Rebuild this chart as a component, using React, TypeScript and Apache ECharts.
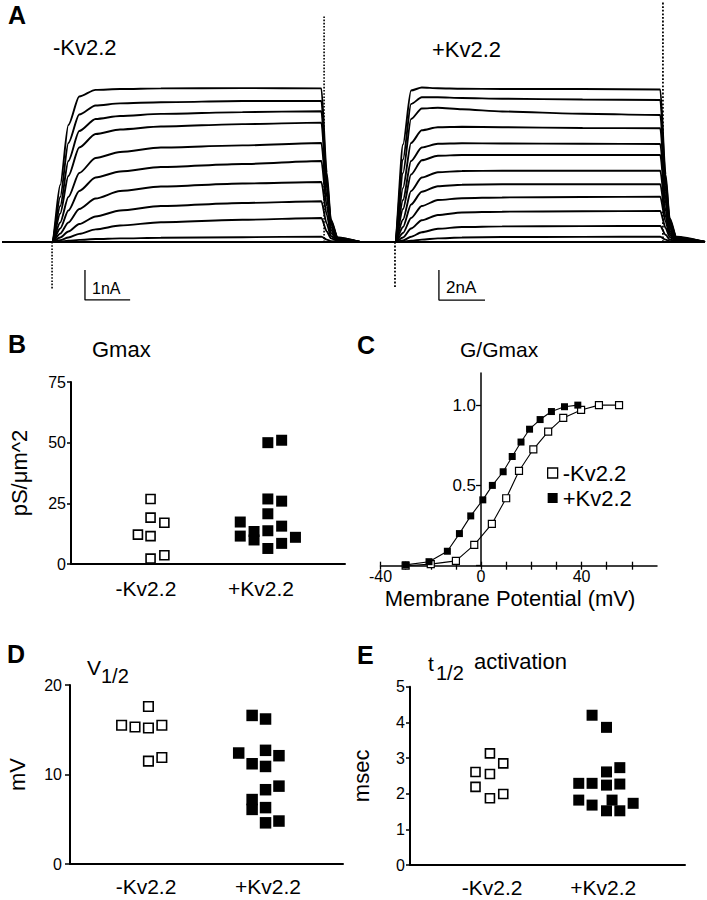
import React, { useEffect, useRef } from "react";
import * as echarts from "echarts";

const FONT = '"Liberation Sans", Arial, Helvetica, sans-serif';
const BLACK = "#000";

// ---------- Panel A : current traces (nA vs ms, pulse 0..100 ms) ----------
const leftTime = [-18.4, 0, 3, 6, 10, 16, 25, 40, 70, 99, 101, 102.5, 105, 113.2];
const leftTraces = [
  [0, 0, 1.9, 3.9, 4.85, 5.07, 5.1, 5.12, 5.13, 5.12, 2.3, 0.75, 0.15, 0],
  [0, 0, 1.5, 3.3, 4.25, 4.55, 4.62, 4.66, 4.7, 4.7, 2.1, 0.7, 0.14, 0],
  [0, 0, 1.2, 2.7, 3.7, 4.1, 4.2, 4.27, 4.33, 4.36, 1.95, 0.65, 0.13, 0],
  [0, 0, 0.95, 2.2, 3.15, 3.6, 3.75, 3.85, 3.93, 3.98, 1.8, 0.6, 0.12, 0],
  [0, 0, 0.65, 1.5, 2.3, 2.8, 3.0, 3.15, 3.22, 3.3, 1.5, 0.5, 0.1, 0],
  [0, 0, 0.45, 1.05, 1.7, 2.15, 2.35, 2.5, 2.6, 2.7, 1.2, 0.4, 0.08, 0],
  [0, 0, 0.28, 0.65, 1.1, 1.45, 1.7, 1.85, 1.95, 2.0, 0.9, 0.3, 0.06, 0],
  [0, 0, 0.15, 0.35, 0.6, 0.85, 1.05, 1.2, 1.3, 1.36, 0.6, 0.2, 0.04, 0],
  [0, 0, 0.06, 0.15, 0.27, 0.42, 0.55, 0.66, 0.74, 0.8, 0.35, 0.12, 0.03, 0],
  [0, 0, 0.02, 0.04, 0.07, 0.1, 0.12, 0.14, 0.16, 0.18, 0.08, 0.03, 0.01, 0],
  [0, 0, 0, 0, 0, 0, 0, 0, 0, 0, 0, 0, 0, 0],
];
const rightTime = [-13.8, 0, 3, 6, 10, 16, 25, 40, 70, 99, 101, 102.5, 105, 115.7];
const rightTraces = [
  [0, 0, 6.5, 10.1, 10.3, 10.25, 10.22, 10.2, 10.2, 10.17, 4.5, 1.6, 0.35, 0],
  [0, 0, 5.5, 9.2, 9.65, 9.65, 9.6, 9.55, 9.5, 9.47, 4.2, 1.5, 0.3, 0],
  [0, 0, 4.6, 8.2, 8.9, 8.95, 8.85, 8.7, 8.55, 8.47, 3.8, 1.35, 0.3, 0],
  [0, 0, 3.6, 6.6, 7.45, 7.65, 7.68, 7.65, 7.6, 7.58, 3.4, 1.2, 0.25, 0],
  [0, 0, 2.8, 5.4, 6.3, 6.55, 6.58, 6.57, 6.55, 6.53, 2.9, 1.05, 0.22, 0],
  [0, 0, 2.2, 4.5, 5.45, 5.75, 5.8, 5.8, 5.8, 5.8, 2.6, 0.93, 0.2, 0],
  [0, 0, 1.5, 3.4, 4.3, 4.65, 4.73, 4.75, 4.75, 4.75, 2.1, 0.76, 0.16, 0],
  [0, 0, 1.0, 2.5, 3.35, 3.72, 3.82, 3.85, 3.85, 3.85, 1.7, 0.62, 0.13, 0],
  [0, 0, 0.6, 1.6, 2.4, 2.8, 2.92, 2.97, 3.0, 3.02, 1.35, 0.48, 0.1, 0],
  [0, 0, 0.3, 0.9, 1.45, 1.8, 1.97, 2.02, 2.05, 2.07, 0.93, 0.33, 0.07, 0],
  [0, 0, 0.1, 0.35, 0.65, 0.88, 1.0, 1.04, 1.06, 1.07, 0.48, 0.17, 0.04, 0],
  [0, 0, 0.02, 0.08, 0.16, 0.24, 0.3, 0.33, 0.34, 0.35, 0.16, 0.06, 0.01, 0],
  [0, 0, 0, 0, 0, 0, 0, 0, 0, 0, 0, 0, 0, 0],
];
const leftOnsetSpike = [[0, 0], [0, -1.6]];
const leftOffsetSpike = [[100, 0], [100, 7.57]];
const rightOnsetSpike = [[0, 0], [0, -3.0]];
const rightOffsetSpike = [[100, 0], [100, 16.0]];
const leftScaleBar = [[12.1, -0.93], [12.1, -1.93], [28.7, -1.93]];
const rightScaleBar = [[16.4, -1.87], [16.4, -3.87], [33.6, -3.87]];

// ---------- Panels B, D, E : scatter by group ----------
const groups = ["-Kv2.2", "+Kv2.2"];

const gmaxMinus = [[1.04, 26.8], [1.04, 19.1], [1.16, 17.0], [0.93, 12.1], [1.04, 11.5], [1.04, 2.2], [1.16, 3.6]];
const gmaxPlus = [
  [2.06, 50.0], [2.18, 51.0], [2.06, 26.8], [2.18, 25.9], [2.06, 20.7], [1.82, 17.3], [1.82, 11.5],
  [1.94, 13.4], [1.94, 9.9], [2.06, 13.7], [2.18, 15.6], [2.18, 8.5], [2.06, 6.4], [2.3, 11.0],
];

const vhalfMinus = [[1.02, 17.6], [0.8, 15.5], [0.91, 15.3], [1.02, 15.2], [1.13, 15.5], [1.02, 11.5], [1.13, 11.9]];
const vhalfPlus = [
  [1.87, 16.6], [1.98, 16.2], [1.76, 12.4], [1.98, 12.7], [2.09, 12.1], [1.87, 11.2], [1.98, 10.9],
  [1.98, 8.3], [2.09, 8.7], [1.87, 7.2], [1.87, 6.1], [1.98, 6.3], [1.98, 4.6], [2.09, 4.8],
];

const thalfMinus = [[0.98, 3.13], [1.1, 2.85], [0.85, 2.61], [0.98, 2.55], [0.85, 2.19], [0.98, 1.87], [1.1, 1.99]];
const thalfPlus = [
  [1.9, 4.2], [2.03, 3.86], [2.03, 2.61], [2.15, 2.73], [1.78, 2.29], [1.9, 2.29], [2.03, 2.24],
  [2.15, 2.27], [1.78, 1.82], [1.9, 1.68], [2.08, 1.82], [2.03, 1.52], [2.15, 1.52], [2.27, 1.73],
];

// ---------- Panel C : G/Gmax vs membrane potential ----------
const cVoltMinus = [-30, -20, -10, -2.7, 4.3, 10, 15.1, 20.8, 26.7, 32.7, 39.8, 46.9, 54.9];
const cGMinus = [0, 0.01, 0.03, 0.13, 0.26, 0.42, 0.59, 0.725, 0.835, 0.92, 0.97, 1.0, 1.0];
const cVoltPlus = [-30, -20.7, -13.4, -8.6, -4.1, 0.7, 4.5, 8.8, 12.4, 15.9, 19.3, 23.5, 28, 33.2, 38.5];
const cGPlus = [0.005, 0.025, 0.09, 0.2, 0.31, 0.41, 0.5, 0.585, 0.68, 0.77, 0.85, 0.91, 0.96, 0.99, 1.0];
const cTicks = [-40, -30, -20, -10, 0, 10, 20, 30, 40, 50, 60];
const cTickLabels = [-40, 0, 40];
const cYTicks = [0, 0.5, 1.0];
const cYTickLabels = [0.5, 1.0];
const cXMin = -40;
const cXMax = 70;

function buildOption() {
  const openStyle = { color: "#fff", borderColor: BLACK, borderWidth: 1.6, opacity: 1 };
  const fillStyle = { color: BLACK, opacity: 1 };

  const cGrid = { left: 380.5, top: 373, width: 276.5, height: 192.7 };
  // y axis of panel C sits at 0 mV
  const cYOffset = -((0 - cXMin) / (cXMax - cXMin)) * cGrid.width;

  const traceSeries = (time: number[], traces: number[][], ax: number) =>
    traces.map((tr) => ({
      type: "line",
      xAxisIndex: ax,
      yAxisIndex: ax,
      data: time.map((t, i) => [t, tr[i]]),
      symbol: "none",
      smooth: 0.25,
      smoothMonotone: "x",
      clip: false,
      silent: true,
      lineStyle: { color: BLACK, width: 1.9 },
    }));

  const plainLine = (data: number[][], ax: number, dotted: boolean, width: number) => ({
    type: "line",
    xAxisIndex: ax,
    yAxisIndex: ax,
    data,
    symbol: "none",
    clip: false,
    silent: true,
    lineStyle: { color: BLACK, width, type: dotted ? "dotted" : "solid" },
  });

  const catLabelFormatter = (v: number) => groups[Math.round(v) - 1] ?? "";

  const catXAxis = (grid: number, min: number, max: number, margin: number) => ({
    gridIndex: grid,
    type: "value",
    position: "bottom",
    min,
    max,
    axisLine: { show: true, onZero: false, lineStyle: { color: BLACK, width: 2 } },
    axisTick: { show: false },
    splitLine: { show: false },
    axisLabel: {
      customValues: [1, 2],
      formatter: catLabelFormatter,
      color: BLACK,
      fontSize: 21,
      fontFamily: FONT,
      margin,
    },
  });

  const scatterYAxis = (grid: number, max: number, interval: number, name: string, nameGap: number, tickLen: number, margin: number) => ({
    gridIndex: grid,
    type: "value",
    min: 0,
    max,
    interval,
    name,
    nameLocation: "middle",
    nameRotate: 90,
    nameGap,
    nameTextStyle: { color: BLACK, fontSize: 22, fontFamily: FONT },
    axisLine: { show: true, onZero: false, lineStyle: { color: BLACK, width: 2 } },
    axisTick: { show: true, length: tickLen, lineStyle: { color: BLACK, width: 1.5 } },
    splitLine: { show: false },
    axisLabel: { color: BLACK, fontSize: 16, fontFamily: FONT, margin },
  });

  const scatter = (name: string, data: number[][], xi: number, yi: number, open: boolean, size: number) => ({
    type: "scatter",
    name,
    xAxisIndex: xi,
    yAxisIndex: yi,
    data,
    symbol: "rect",
    symbolSize: size,
    silent: true,
    itemStyle: open ? openStyle : fillStyle,
  });

  const txt = (text: string, x: number, y: number, size: number, bold = false, align = "left") => ({
    type: "text",
    x,
    y,
    silent: true,
    style: {
      text,
      fill: BLACK,
      fontSize: size,
      fontWeight: bold ? "bold" : "normal",
      fontFamily: FONT,
      align,
      verticalAlign: "middle",
    },
  });

  return {
    animation: false,
    backgroundColor: "#fff",
    textStyle: { fontFamily: FONT, color: BLACK },
    grid: [
      { left: 2, top: 0, width: 358, height: 300 },
      { left: 358, top: 0, width: 347, height: 300 },
      { left: 71, top: 382, width: 274, height: 182 },
      cGrid,
      { left: 70, top: 685, width: 273, height: 179 },
      { left: 410, top: 686.7, width: 275, height: 178.3 },
    ],
    xAxis: [
      { gridIndex: 0, type: "value", min: -18.4, max: 113.2, show: false },
      { gridIndex: 1, type: "value", min: -13.8, max: 115.7, show: false },
      catXAxis(2, 0.348, 2.731, 14),
      {
        gridIndex: 3,
        type: "value",
        position: "bottom",
        min: cXMin,
        max: cXMax,
        interval: 10,
        axisLine: { show: true, onZero: false, lineStyle: { color: BLACK, width: 1.5 } },
        axisTick: { show: true, customValues: cTicks, length: 4, lineStyle: { color: BLACK, width: 1.3 } },
        splitLine: { show: false },
        axisLabel: { customValues: cTickLabels, color: BLACK, fontSize: 16, fontFamily: FONT, margin: 3 },
      },
      {
        gridIndex: 3,
        type: "value",
        position: "bottom",
        min: cXMin,
        max: cXMax,
        interval: 10,
        axisLine: { show: false, onZero: false },
        axisTick: { show: true, inside: true, customValues: cTicks, length: 4, lineStyle: { color: BLACK, width: 1.3 } },
        splitLine: { show: false },
        axisLabel: { show: false },
      },
      catXAxis(4, 0.377, 2.615, 12),
      catXAxis(5, 0.26, 2.737, 12),
    ],
    yAxis: [
      { gridIndex: 0, type: "value", min: -1.933, max: 8.067, show: false },
      { gridIndex: 1, type: "value", min: -3.867, max: 16.133, show: false },
      scatterYAxis(2, 75, 25, "pS/\u03bcm^2", 41, 4, 5),
      {
        gridIndex: 3,
        type: "value",
        position: "left",
        offset: cYOffset,
        min: 0,
        max: 1.2,
        interval: 0.5,
        axisLine: { show: true, onZero: false, lineStyle: { color: BLACK, width: 1.5 } },
        axisTick: { show: true, customValues: cYTicks, length: 5, lineStyle: { color: BLACK, width: 1.3 } },
        splitLine: { show: false },
        axisLabel: {
          customValues: cYTickLabels,
          color: BLACK,
          fontSize: 17,
          fontFamily: FONT,
          margin: 5,
          formatter: (v: number) => (v === 0.5 || v === 1 ? v.toFixed(1) : ""),
        },
      },
      scatterYAxis(4, 20, 10, "mV", 42, 5, 8),
      scatterYAxis(5, 5, 1, "msec", 38, 4, 5),
    ],
    legend: {
      left: 547,
      top: 462,
      orient: "vertical",
      icon: "rect",
      itemWidth: 10,
      itemHeight: 10,
      itemGap: 3,
      padding: 0,
      selectedMode: false,
      textStyle: { color: BLACK, fontSize: 22, fontFamily: FONT },
      data: [
        { name: "-Kv2.2", itemStyle: { color: "#fff", borderColor: BLACK, borderWidth: 1.3 } },
        { name: "+Kv2.2", itemStyle: { color: BLACK } },
      ],
    },
    series: [
      ...traceSeries(leftTime, leftTraces, 0),
      ...traceSeries(rightTime, rightTraces, 1),
      plainLine(leftOnsetSpike, 0, true, 1.6),
      plainLine(leftOffsetSpike, 0, true, 1.6),
      plainLine(rightOnsetSpike, 1, true, 1.8),
      plainLine(rightOffsetSpike, 1, true, 1.8),
      plainLine(leftScaleBar, 0, false, 1.3),
      plainLine(rightScaleBar, 1, false, 1.3),
      scatter("B minus", gmaxMinus, 2, 2, true, 9),
      scatter("B plus", gmaxPlus, 2, 2, false, 11),
      {
        type: "line",
        name: "-Kv2.2",
        xAxisIndex: 3,
        yAxisIndex: 3,
        data: cVoltMinus.map((v, i) => [v, cGMinus[i]]),
        symbol: "rect",
        symbolSize: 7,
        showSymbol: true,
        silent: true,
        lineStyle: { color: BLACK, width: 1.1 },
        itemStyle: { color: "#fff", borderColor: BLACK, borderWidth: 1.2, opacity: 1 },
      },
      {
        type: "line",
        name: "+Kv2.2",
        xAxisIndex: 3,
        yAxisIndex: 3,
        data: cVoltPlus.map((v, i) => [v, cGPlus[i]]),
        symbol: "rect",
        symbolSize: 7,
        showSymbol: true,
        silent: true,
        lineStyle: { color: BLACK, width: 1.1 },
        itemStyle: { color: BLACK, opacity: 1 },
      },
      scatter("D minus", vhalfMinus, 5, 4, true, 9.5),
      scatter("D plus", vhalfPlus, 5, 4, false, 11.5),
      scatter("E minus", thalfMinus, 6, 5, true, 9),
      scatter("E plus", thalfPlus, 6, 5, false, 11),
    ],
    graphic: [
      txt("A", 8, 15, 25, true),
      txt("-Kv2.2", 53, 47, 22),
      txt("+Kv2.2", 432, 49, 22),
      txt("1nA", 92, 288, 16),
      txt("2nA", 446, 287, 17),
      txt("B", 8, 344, 25, true),
      txt("Gmax", 92, 349, 22),
      txt("C", 357, 345, 25, true),
      txt("G/Gmax", 460, 349, 21),
      txt("Membrane Potential (mV)", 510, 598, 22, false, "center"),
      txt("D", 7, 654, 25, true),
      txt("V", 87, 667, 21),
      txt("1/2", 101, 676, 20),
      txt("E", 357, 655, 25, true),
      txt("t", 428, 663, 21),
      txt("1/2", 436, 673, 20),
      txt("activation", 474, 661, 22),
    ],
  };
}

export default function App() {
  const ref = useRef<HTMLDivElement>(null);
  useEffect(() => {
    document.body.style.margin = "0";
    const chart = echarts.init(ref.current!, null, { renderer: "svg" });
    chart.setOption(buildOption() as any);
    return () => chart.dispose();
  }, []);
  return (
    <div
      ref={ref}
      style={{ position: "absolute", left: 0, top: 0, width: 707, height: 900, background: "#fff" }}
    />
  );
}
